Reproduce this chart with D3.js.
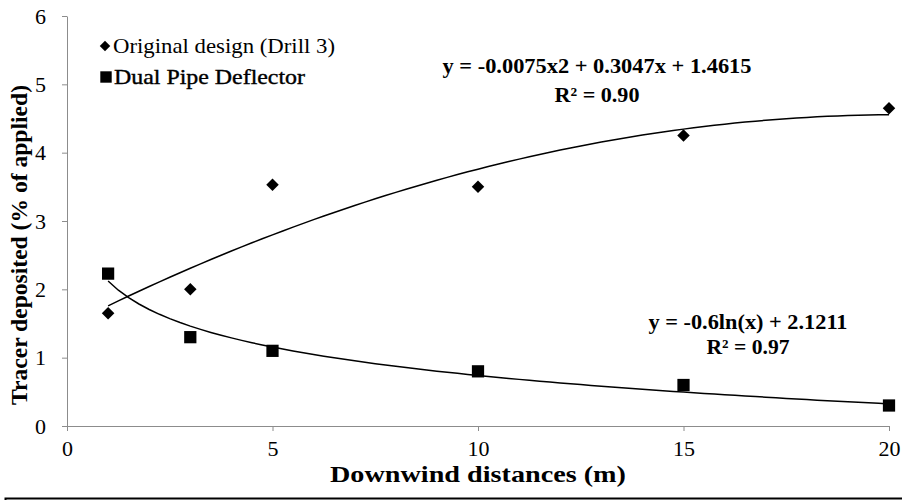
<!DOCTYPE html>
<html>
<head>
<meta charset="utf-8">
<script src="https://cdn.jsdelivr.net/npm/d3@7"></script>
<style>
  body { margin: 0; background: #fff; }
  svg text { font-family: "Liberation Serif", "Times New Roman", serif; }
  .axis path, .axis line { stroke: #8c8c8c; }
  .axis text { font-size: 22px; fill: #000; }
</style>
</head>
<body>
<svg id="chart" width="902" height="500"></svg>
<script>
// distances (m)
const distances = [1, 3, 5, 10, 15, 20];
// tracer deposited (% of applied)
const originalDesign = [1.65, 2.0, 3.53, 3.5, 4.25, 4.65];
const dualPipe = [2.23, 1.3, 1.1, 0.8, 0.6, 0.3];

const xTicks = [0, 5, 10, 15, 20];
const yTicks = [0, 1, 2, 3, 4, 5, 6];

// trendline coefficients shown on the chart
const polyCoef = [1.4615, 0.3047, -0.0075];   // c0 + c1 x + c2 x^2
const logCoef = [2.1211, -0.6];               // c0 + c1 ln(x)
const polyLabel = ["y = -0.0075x2 + 0.3047x + 1.4615", "R² = 0.90"];
const logLabel = ["y = -0.6ln(x) + 2.1211", "R² = 0.97"];

const serif = '"Liberation Serif", "Times New Roman", serif';
const svg = d3.select("#chart");

const x = d3.scaleLinear().domain([0, 20]).range([67, 889]);
const y = d3.scaleLinear().domain([0, 6]).range([426, 16]);

// axes
const xAxis = svg.append("g")
    .attr("class", "axis")
    .attr("transform", "translate(0,426)")
    .call(d3.axisBottom(x).tickValues(xTicks).tickFormat(d3.format("d"))
        .tickSize(5).tickSizeOuter(0).tickPadding(8));
xAxis.attr("font-family", serif);
xAxis.selectAll("text").attr("dy", "0.78em");

const yAxis = svg.append("g")
    .attr("class", "axis")
    .attr("transform", "translate(67,0)")
    .call(d3.axisLeft(y).tickValues(yTicks).tickFormat(d3.format("d"))
        .tickSize(5).tickSizeOuter(0).tickPadding(16));
yAxis.attr("font-family", serif);

// axis titles (squeezed to the width they have in the original)
svg.append("text")
    .attr("x", 330)
    .attr("y", 482)
    .attr("font-size", 23)
    .attr("font-weight", "bold")
    .attr("textLength", 296)
    .attr("lengthAdjust", "spacingAndGlyphs")
    .text("Downwind distances (m)");

svg.append("text")
    .attr("transform", "translate(27,405) rotate(-90)")
    .attr("font-size", 23)
    .attr("font-weight", "bold")
    .attr("textLength", 320)
    .attr("lengthAdjust", "spacingAndGlyphs")
    .text("Tracer deposited (% of applied)");

// trendlines
const xs = d3.range(1, 20.01, 0.25);
const line = d3.line().x(d => x(d[0])).y(d => y(d[1]));

svg.append("path")
    .datum(xs.map(v => [v, polyCoef[0] + polyCoef[1] * v + polyCoef[2] * v * v]))
    .attr("d", line)
    .attr("fill", "none")
    .attr("stroke", "#000")
    .attr("stroke-width", 1.5);

svg.append("path")
    .datum(xs.map(v => [v, logCoef[0] + logCoef[1] * Math.log(v)]))
    .attr("d", line)
    .attr("fill", "none")
    .attr("stroke", "#000")
    .attr("stroke-width", 1.5);

// markers
const diamond = d3.symbol().type(d3.symbolDiamond2).size(100);
const square = d3.symbol().type(d3.symbolSquare).size(150);

svg.append("g").selectAll("path")
    .data(distances.map((d, i) => [d, originalDesign[i]]))
    .join("path")
    .attr("transform", d => `translate(${x(d[0])},${y(d[1])})`)
    .attr("d", diamond)
    .attr("fill", "#000");

svg.append("g").selectAll("path")
    .data(distances.map((d, i) => [d, dualPipe[i]]))
    .join("path")
    .attr("transform", d => `translate(${x(d[0])},${y(d[1])})`)
    .attr("d", square)
    .attr("fill", "#000");

// legend
svg.append("path")
    .attr("transform", "translate(105,46)")
    .attr("d", d3.symbol().type(d3.symbolDiamond2).size(70))
    .attr("fill", "#000");
svg.append("text")
    .attr("x", 113).attr("y", 53)
    .attr("font-size", 22)
    .attr("textLength", 222)
    .attr("lengthAdjust", "spacingAndGlyphs")
    .text("Original design (Drill 3)");

svg.append("path")
    .attr("transform", "translate(106,77)")
    .attr("d", d3.symbol().type(d3.symbolSquare).size(130))
    .attr("fill", "#000");
svg.append("text")
    .attr("x", 114).attr("y", 84)
    .attr("font-size", 22)
    .attr("stroke", "#000")
    .attr("stroke-width", 0.4)
    .attr("textLength", 191)
    .attr("lengthAdjust", "spacingAndGlyphs")
    .text("Dual Pipe Deflector");

// trendline equations
function equation(lines, cx, ys, widths) {
    const t = svg.append("text")
        .attr("font-size", 21)
        .attr("font-weight", "bold");
    lines.forEach((s, i) => {
        t.append("tspan")
            .attr("x", cx - widths[i] / 2)
            .attr("y", ys[i])
            .attr("textLength", widths[i])
            .attr("lengthAdjust", "spacingAndGlyphs")
            .text(s);
    });
}
equation(polyLabel, 597, [73, 102], [309, 85]);
equation(logLabel, 748, [329, 354], [199, 83]);

// frame line along the bottom
svg.append("path")
    .attr("d", "M5.5,500 V498.5 H902")
    .attr("fill", "none")
    .attr("stroke", "#000")
    .attr("stroke-width", 2);
</script>
</body>
</html>
